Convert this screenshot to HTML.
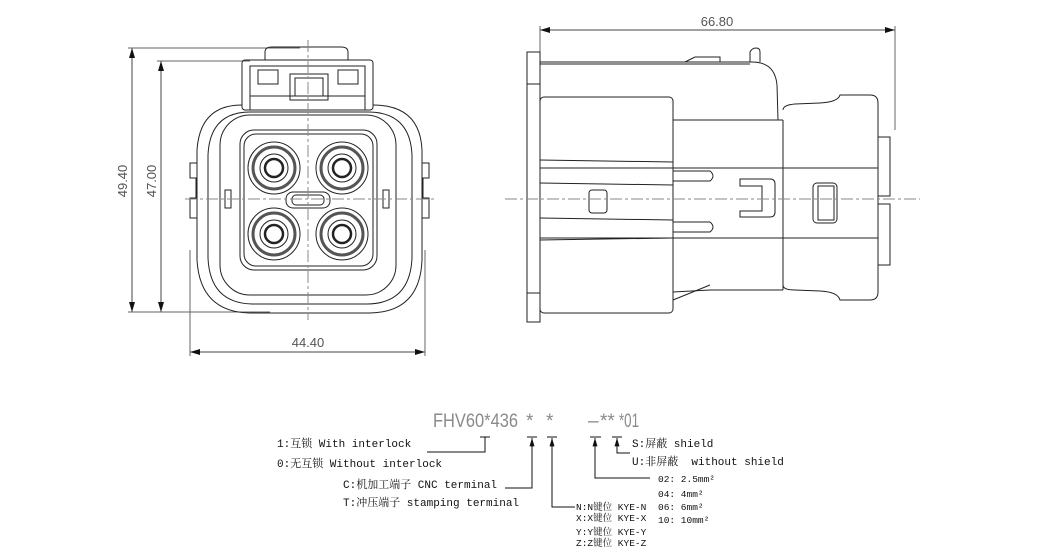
<!DOCTYPE html>
<html><head><meta charset="utf-8"><style>
html,body{margin:0;padding:0;background:#fff;}
svg{display:block}
.t{font-family:"Liberation Mono","Noto Serif CJK SC","Noto Sans CJK SC",monospace;fill:#111;}
.d{font-family:"Liberation Sans",sans-serif;fill:#555;}
.f{font-family:"Liberation Sans",sans-serif;fill:#8a8a8a;font-size:19px;}
</style></head><body>
<svg width="1050" height="560" viewBox="0 0 1050 560" xmlns="http://www.w3.org/2000/svg">
<defs>
<marker id="a" viewBox="0 0 10 6" refX="10" refY="3" markerWidth="10" markerHeight="6" orient="auto-start-reverse" markerUnits="userSpaceOnUse"><path d="M0,0 L10,3 L0,6z" fill="#111"/></marker>
<marker id="u" viewBox="0 0 6 10" refX="3" refY="0" markerWidth="5" markerHeight="9" orient="0" markerUnits="userSpaceOnUse"><path d="M0,10 L3,0 L6,10z" fill="#111"/></marker>
</defs>
<g fill="none" stroke="#222" stroke-width="1">
<line x1="132" y1="48" x2="132" y2="312" stroke="#444" marker-start="url(#a)" marker-end="url(#a)"/>
<line x1="161" y1="61" x2="161" y2="312" stroke="#444" marker-start="url(#a)" marker-end="url(#a)"/>
<line x1="128" y1="48" x2="300" y2="48" stroke="#666"/>
<line x1="157" y1="61" x2="250" y2="61" stroke="#666"/>
<line x1="128" y1="312" x2="270" y2="312" stroke="#666"/>
<line x1="190" y1="352" x2="425" y2="352" stroke="#444" marker-start="url(#a)" marker-end="url(#a)"/>
<line x1="190" y1="250" x2="190" y2="356" stroke="#666"/>
<line x1="425" y1="250" x2="425" y2="356" stroke="#666"/>
<path d="M265,60 L265,52 Q265,47 272,47 L341,47 Q348,47 348,52 L348,60" />
<rect x="242" y="60" width="131" height="50" rx="3"/>
<rect x="250" y="66" width="115" height="44"/>
<rect x="258" y="70" width="20" height="14"/><rect x="338" y="70" width="20" height="14"/>
<rect x="295" y="78" width="28" height="18"/>
<rect x="290" y="74" width="38" height="26"/>
<line x1="250" y1="96" x2="365" y2="96"/>
<path d="M242,105 Q200,105 197,150 L197,260 Q200,312 250,313 L370,313 Q420,312 422,260 L422,150 Q420,105 373,105"/>
<path d="M250,112 Q210,112 208,155 L208,258 Q210,303 252,304 L368,304 Q410,303 412,258 L412,155 Q410,112 368,112 Z"/>
<rect x="220" y="115" width="176" height="180" rx="30"/>
<rect x="240" y="130" width="137" height="140" rx="14"/>
<rect x="244" y="134" width="129" height="132" rx="12"/>
<path d="M197,163 L190,163 L190,178 L196,178 L196,198 L190,198 L190,218 L197,218"/>
<path d="M422,163 L429,163 L429,178 L423,178 L423,198 L429,198 L429,218 L422,218"/>
<rect x="225" y="190" width="6" height="18"/><rect x="383" y="190" width="6" height="18"/>
<g>
<circle cx="274" cy="168" r="26"/><circle cx="274" cy="168" r="21" stroke-width="3" stroke="#555"/><circle cx="274" cy="168" r="14"/><circle cx="274" cy="168" r="9" stroke-width="2.5"/>
<circle cx="342" cy="168" r="26"/><circle cx="342" cy="168" r="21" stroke-width="3" stroke="#555"/><circle cx="342" cy="168" r="14"/><circle cx="342" cy="168" r="9" stroke-width="2.5"/>
<circle cx="274" cy="234" r="26"/><circle cx="274" cy="234" r="21" stroke-width="3" stroke="#555"/><circle cx="274" cy="234" r="14"/><circle cx="274" cy="234" r="9" stroke-width="2.5"/>
<circle cx="342" cy="234" r="26"/><circle cx="342" cy="234" r="21" stroke-width="3" stroke="#555"/><circle cx="342" cy="234" r="14"/><circle cx="342" cy="234" r="9" stroke-width="2.5"/>
</g>
<rect x="286" y="192" width="44" height="16" rx="7"/><rect x="292" y="195" width="32" height="10" rx="4"/>
<line x1="185" y1="199" x2="435" y2="199" stroke="#888" stroke-dasharray="12,3,3,3"/>
<line x1="308" y1="40" x2="308" y2="320" stroke="#888" stroke-dasharray="12,3,3,3"/>
<line x1="540" y1="30" x2="895" y2="30" stroke="#444" marker-start="url(#a)" marker-end="url(#a)"/>
<line x1="540" y1="26" x2="540" y2="55" stroke="#666"/>
<line x1="895" y1="26" x2="895" y2="130" stroke="#666"/>
<rect x="527" y="52" width="13" height="270"/>
<line x1="527" y1="84" x2="540" y2="84"/><line x1="527" y1="293" x2="540" y2="293"/>
<path d="M540,62 L752,62 Q775,62 777,85 L778,120"/>
<path d="M540,64 L750,64"/>
<path d="M750,62 L750,52 Q752,48 756,48 Q760,48 760,52 L760,62"/>
<path d="M685,62 L695,57 L720,57 L720,62"/>
<rect x="540" y="97" width="133" height="216" rx="4"/>
<path d="M673,120 L783,120 M673,292 L710,290 L783,290"/>
<path d="M673,300 L710,285"/>
<path d="M783,120 L783,290"/>
<path d="M783,110 Q783,105 795,104 L820,103 Q838,102 840,95 L870,95 Q878,95 878,103 L878,292 Q878,300 870,300 L840,300 Q838,292 820,291 L795,290 Q783,290 783,285"/>
<rect x="878" y="137" width="12" height="59"/><rect x="878" y="204" width="12" height="61"/>
<line x1="540" y1="168" x2="878" y2="168"/><line x1="540" y1="238" x2="878" y2="238"/>
<line x1="540" y1="160" x2="673" y2="162"/><line x1="540" y1="183" x2="673" y2="185"/>
<line x1="540" y1="218" x2="673" y2="220"/><line x1="540" y1="240" x2="673" y2="238"/>
<path d="M673,171 L710,171 Q716,176 710,181 L673,181"/>
<path d="M673,222 L710,222 Q716,227 710,232 L673,232"/>
<rect x="589" y="190" width="18" height="23" rx="3"/>
<path d="M740,179 L770,179 Q775,179 775,184 L775,212 Q775,217 770,217 L740,217 L740,211 L762,211 L762,186 L740,186 Z"/>
<rect x="813" y="183" width="24" height="40" rx="4"/><rect x="818" y="186" width="16" height="34"/>
<line x1="505" y1="199" x2="920" y2="199" stroke="#888" stroke-dasharray="12,3,3,3"/>
<g stroke="#111">
<path d="M427,452 L485,452 L485,437 M480,437 L490,437"/>
<path d="M505,488 L532,488 L532,438" marker-end="url(#u)"/>
<path d="M527,437 L537,437" />
<path d="M575,507 L552,507 L552,438" marker-end="url(#u)"/>
<path d="M547,437 L557,437"/>
<path d="M650,478 L595,478 L595,438" marker-end="url(#u)"/>
<path d="M590,437 L601,437"/>
<path d="M630,453 L617,453 L617,438" marker-end="url(#u)"/>
<path d="M612,437 L622,437"/>
</g>
</g>
<text class="d" x="717" y="26" font-size="13" text-anchor="middle">66.80</text>
<text class="d" x="308" y="347" font-size="13" text-anchor="middle">44.40</text>
<text class="d" font-size="13" text-anchor="middle" transform="translate(127,181) rotate(-90)">49.40</text>
<text class="d" font-size="13" text-anchor="middle" transform="translate(156,181) rotate(-90)">47.00</text>
<text class="f" x="433" y="427" textLength="85" lengthAdjust="spacingAndGlyphs">FHV60*436</text>
<text class="f" x="526" y="427">*</text>
<text class="f" x="546" y="427">*</text>
<text class="f" x="588" y="427">–</text>
<text class="f" x="600" y="427">**</text>
<text class="f" x="619" y="427" textLength="20" lengthAdjust="spacingAndGlyphs">*01</text>
<g font-size="11">
<text class="t" x="277" y="447">1:互锁 With interlock</text>
<text class="t" x="277" y="467">0:无互锁 Without interlock</text>
<text class="t" x="343" y="488">C:机加工端子 CNC terminal</text>
<text class="t" x="343" y="506">T:冲压端子 stamping terminal</text>
<text class="t" x="632" y="447">S:屏蔽 shield</text>
<text class="t" x="632" y="465" xml:space="preserve">U:非屏蔽  without shield</text>
</g>
<g font-size="9.5">
<text class="t" x="576" y="510">N:N键位 KYE-N</text>
<text class="t" x="576" y="521">X:X键位 KYE-X</text>
<text class="t" x="576" y="535">Y:Y键位 KYE-Y</text>
<text class="t" x="576" y="546">Z:Z键位 KYE-Z</text>
<text class="t" x="658" y="482">02: 2.5mm²</text>
<text class="t" x="658" y="497">04: 4mm²</text>
<text class="t" x="658" y="510">06: 6mm²</text>
<text class="t" x="658" y="523">10: 10mm²</text>
</g>
</svg>
</body></html>
